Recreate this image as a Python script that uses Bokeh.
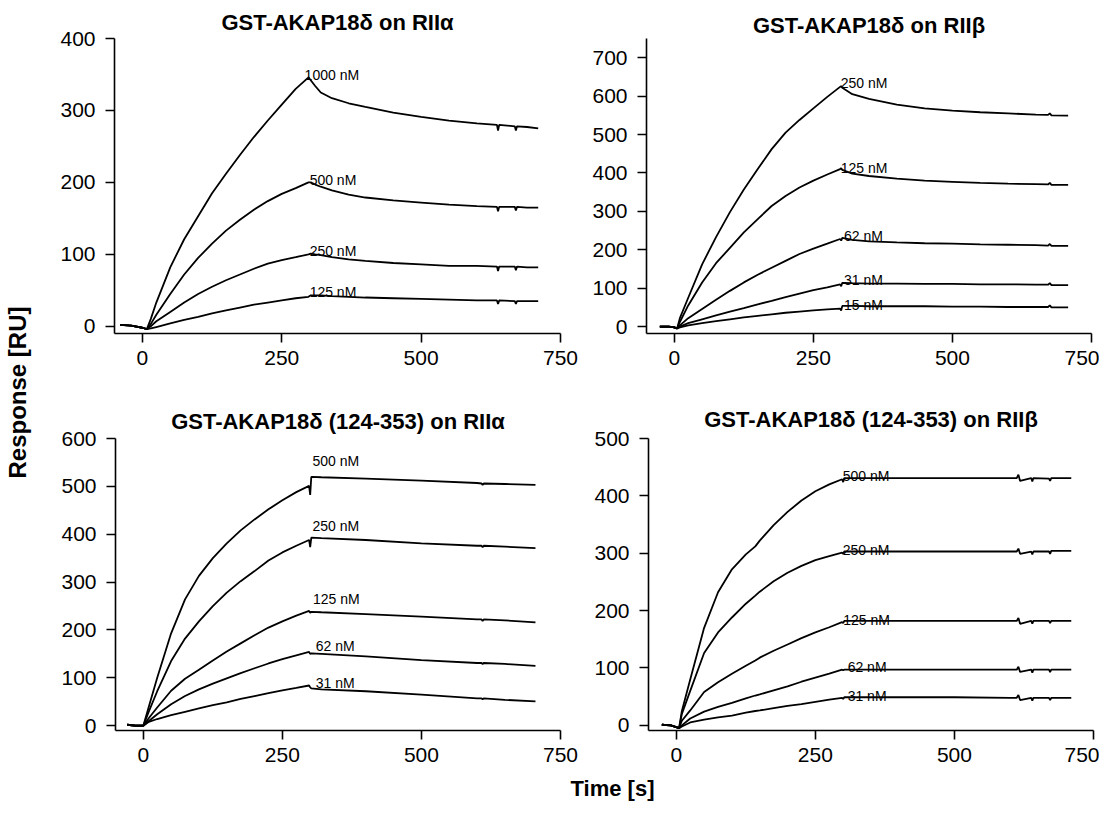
import math
from bokeh.plotting import figure
from bokeh.layouts import row, column
from bokeh.models import FixedTicker, Label
from bokeh.core.properties import value
from bokeh.embed import file_html
from bokeh.resources import INLINE

FONT = "Liberation Sans"

# ---------------- data ----------------
# Panel A: GST-AKAP18d on RIIa
t_a = [-40, -20, 0, 8, 15, 25, 50, 75, 100, 125, 150, 175, 200, 225, 250, 275, 298, 302, 310, 320,
       340, 370, 400, 450, 500, 550, 600, 636, 638, 640, 668, 670, 672, 690, 710]
a_1000 = [2, 1, -2, -4, 10, 33, 82, 121, 153, 185, 212, 238, 263, 286, 308, 330, 346, 342, 334, 325,
          317, 310, 305, 297, 291, 286, 282, 280, 272, 280, 278, 272, 278, 277, 275]
a_500 = [2, 1, -2, -4, 3, 16, 45, 72, 95, 115, 133, 148, 162, 174, 184, 192, 200, 200, 197, 194,
         189, 183, 179, 175, 172, 169, 167, 166, 160, 166, 166, 161, 166, 165, 165]
a_250 = [2, 1, -2, -4, 0, 7, 20, 33, 45, 55, 64, 72, 80, 87, 92, 96, 100, 101, 100, 99,
         96, 93, 91, 88, 86, 84, 84, 83, 77, 83, 83, 78, 83, 82, 82]
a_125 = [2, 1, -2, -4, -3, -1, 4, 9, 13, 18, 22, 26, 30, 33, 36, 39, 41, 43, 43, 43,
         42, 41, 40, 39, 38, 37, 36, 36, 31, 36, 35, 31, 35, 35, 35]
lab_a_t = [291, 300, 300, 300]
lab_a_v = [349, 204, 105, 47]
lab_a = ["1000 nM", "500 nM", "250 nM", "125 nM"]

# Panel B: GST-AKAP18d on RIIb
t_b = [-26, -10, 0, 5, 10, 25, 50, 75, 100, 125, 150, 175, 200, 225, 250, 275, 298, 300, 302, 320,
       350, 400, 450, 500, 550, 600, 650, 672, 675, 678, 708]
b_250 = [0, 0, -2, -5, 22, 75, 162, 233, 298, 357, 410, 462, 505, 538, 568, 598, 624, 626, 622, 605,
         593, 578, 568, 562, 558, 555, 552, 551, 555, 550, 549]
b_125 = [0, 0, -2, -5, 12, 55, 115, 165, 205, 245, 280, 314, 340, 362, 380, 396, 410, 412, 408, 398,
         392, 385, 380, 377, 374, 372, 371, 370, 374, 369, 369]
b_62 = [0, 0, -2, -5, 3, 22, 46, 70, 93, 115, 135, 153, 171, 189, 203, 216, 228, 224, 231, 226,
        222, 219, 217, 216, 214, 213, 212, 211, 215, 210, 210]
b_31 = [0, 0, -2, -5, 0, 9, 19, 29, 39, 48, 58, 67, 77, 86, 95, 102, 110, 105, 114, 113,
        112, 112, 111, 111, 110, 110, 109, 109, 113, 108, 108]
b_15 = [0, 0, -2, -5, -2, 3, 9, 14, 19, 24, 28, 32, 36, 39, 42, 45, 47, 42, 54, 54,
        53, 53, 53, 52, 52, 51, 51, 51, 55, 50, 50]
lab_b_t = [299, 299, 305, 305, 305]
lab_b_v = [633, 413, 237, 122, 57]
lab_b = ["250 nM", "125 nM", "62 nM", "31 nM", "15 nM"]

# Panel C: GST-AKAP18d (124-353) on RIIa
t_c = [-29, -15, 0, 10, 25, 50, 75, 100, 125, 150, 175, 200, 225, 250, 275, 298, 300, 302, 320, 400,
       500, 600, 608, 610, 612, 650, 705]
c_500 = [2, 0, 0, 40, 100, 193, 264, 313, 350, 381, 408, 431, 452, 471, 488, 501, 482, 520, 519, 516,
         512, 507, 506, 503, 506, 505, 503]
c_250 = [2, 0, 0, 30, 72, 135, 182, 218, 250, 278, 302, 323, 345, 362, 376, 388, 373, 393, 392, 388,
         381, 376, 376, 373, 376, 374, 371]
c_125 = [2, 0, 0, 16, 38, 73, 98, 117, 136, 155, 172, 189, 205, 218, 230, 240, 236, 238, 237, 233,
         228, 222, 222, 219, 222, 220, 216]
c_62 = [2, 0, 0, 10, 24, 45, 62, 76, 88, 99, 110, 120, 130, 139, 147, 154, 150, 151, 150, 145,
        137, 131, 131, 129, 131, 129, 125]
c_31 = [2, 0, 0, 8, 14, 22, 29, 36, 43, 49, 56, 62, 68, 74, 79, 84, 80, 78, 76, 72,
        65, 57, 57, 55, 57, 54, 51]
lab_c_t = [304, 304, 305, 310, 310]
lab_c_v = [553, 417, 264, 166, 90]
lab_c = ["500 nM", "250 nM", "125 nM", "62 nM", "31 nM"]

# Panel D: GST-AKAP18d (124-353) on RIIb
t_d = [-26, -10, 0, 5, 10, 25, 50, 75, 100, 125, 142, 150, 175, 200, 225, 250, 275, 298, 300, 302,
       400, 500, 600, 612, 615, 618, 638, 640, 642, 670, 672, 674, 710]
d_500 = [1, 0, -3, -5, 25, 80, 170, 232, 272, 298, 312, 322, 349, 372, 392, 408, 420, 429, 424, 431,
         431, 431, 431, 431, 437, 426, 431, 425, 431, 430, 426, 431, 431]
d_250 = [1, 0, -3, -5, 20, 60, 126, 162, 188, 212, 226, 233, 251, 266, 278, 288, 295, 301, 299, 303,
         303, 303, 303, 303, 308, 299, 303, 298, 303, 303, 299, 304, 304]
d_125 = [1, 0, -3, -5, 8, 26, 58, 75, 90, 104, 113, 118, 130, 141, 152, 162, 171, 180, 178, 182,
         182, 182, 182, 182, 187, 177, 182, 177, 182, 182, 178, 182, 182]
d_62 = [1, 0, -3, -5, 0, 12, 24, 32, 39, 47, 52, 54, 61, 68, 76, 83, 90, 97, 96, 97,
        97, 97, 97, 97, 102, 93, 97, 92, 97, 97, 93, 97, 97]
d_31 = [1, 0, -3, -5, -2, 5, 10, 14, 17, 22, 25, 26, 30, 34, 37, 41, 45, 48, 46, 49,
        49, 49, 48, 48, 53, 44, 48, 43, 48, 48, 44, 48, 48]
lab_d_t = [299, 299, 300, 308, 308]
lab_d_v = [435, 306, 183, 101, 52]
lab_d = ["500 nM", "250 nM", "125 nM", "62 nM", "31 nM"]

x_ticks = [0, 250, 500, 750]


def panel(title, t, curves, lab_t, lab_v, lab_txt, y_range, y_ticks,
          width, height, bl, br, bt, bb, standoff):
    p = figure(width=width, height=height, x_range=(-50, 750), y_range=y_range,
               output_backend="svg", toolbar_location=None,
               min_border_left=bl, min_border_right=br,
               min_border_top=bt, min_border_bottom=bb)
    p.title.text = title
    p.title.align = "center"
    p.title.text_font = FONT
    p.title.text_font_size = "22px"
    p.title.text_font_style = "bold"
    p.title.text_color = "black"
    p.title.standoff = standoff
    p.outline_line_color = None
    p.xgrid.visible = False
    p.ygrid.visible = False
    p.xaxis.ticker = FixedTicker(ticks=x_ticks)
    p.yaxis.ticker = FixedTicker(ticks=y_ticks)
    for ax, so in ((p.xaxis[0], 8), (p.yaxis[0], 10)):
        ax.axis_line_width = 1.6
        ax.axis_line_color = "black"
        ax.major_tick_out = 9
        ax.major_tick_in = 0
        ax.major_tick_line_width = 1.6
        ax.major_tick_line_color = "black"
        ax.minor_tick_out = 0
        ax.minor_tick_in = 0
        ax.major_label_text_font = FONT
        ax.major_label_text_font_size = "21px"
        ax.major_label_text_color = "black"
        ax.major_label_standoff = so
    for v in curves:
        p.line(t, v, line_color="black", line_width=1.8)
    p.text(x=lab_t, y=lab_v, text=lab_txt, text_font=value(FONT),
           text_font_size="14px", text_align="left", text_baseline="alphabetic",
           text_color="black")
    return p


f1 = panel("GST-AKAP18\u03b4 on RII\u03b1", t_a, [a_1000, a_500, a_250, a_125],
           lab_a_t, lab_a_v, lab_a, (-10, 400), [0, 100, 200, 300, 400],
           540, 387, 72, 22, 37, 54, 7)
f2 = panel("GST-AKAP18\u03b4 on RII\u03b2", t_b, [b_250, b_125, b_62, b_31, b_15],
           lab_b_t, lab_b_v, lab_b, (-18, 750), [0, 100, 200, 300, 400, 500, 600, 700],
           517, 387, 64, 8, 38, 54, 1)
f3 = panel("GST-AKAP18\u03b4 (124-353) on RII\u03b1", t_c, [c_500, c_250, c_125, c_62, c_31],
           lab_c_t, lab_c_v, lab_c, (-10, 600), [0, 100, 200, 300, 400, 500, 600],
           540, 385, 73, 22, 47, 42, 10)
f4 = panel("GST-AKAP18\u03b4 (124-353) on RII\u03b2", t_d, [d_500, d_250, d_125, d_62, d_31],
           lab_d_t, lab_d_v, lab_d, (-9, 500), [0, 100, 200, 300, 400, 500],
           517, 385, 66, 6, 51, 39, 14)

left = figure(width=42, height=804, x_range=(0, 42), y_range=(0, 804),
              output_backend="svg", toolbar_location=None, min_border=0,
              x_axis_type=None, y_axis_type=None)
left.outline_line_color = None
left.add_layout(Label(x=17, y=412, text="Response [RU]", angle=math.pi / 2,
                      text_align="center", text_baseline="middle",
                      text_font=FONT, text_font_size="24px", text_font_style="bold",
                      text_color="black"))

bottom = figure(width=1057, height=32, x_range=(0, 1057), y_range=(0, 32),
                output_backend="svg", toolbar_location=None, min_border=0,
                x_axis_type=None, y_axis_type=None)
bottom.outline_line_color = None
bottom.add_layout(Label(x=570, y=16, text="Time [s]", text_align="center",
                        text_baseline="middle", text_font=FONT,
                        text_font_size="22px", text_font_style="bold",
                        text_color="black"))

layout = row(left, column(row(f1, f2), row(f3, f4), bottom))

open("out.html", "w").write(file_html(layout, INLINE))
